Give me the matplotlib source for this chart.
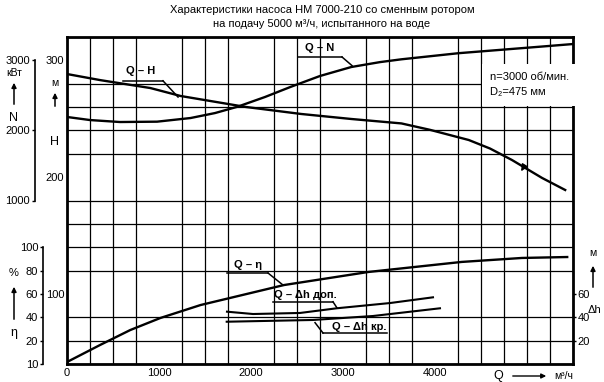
import numpy as np
import matplotlib
matplotlib.use('Agg')
import matplotlib.pyplot as plt

plt.rcParams['font.family'] = ['Liberation Sans', 'DejaVu Sans']
plt.rcParams['font.size'] = 8

# data (Q in m3/h)
q_h = [0, 360, 906, 1234, 1943, 2544, 3090, 3635, 3946, 4367, 4598, 4836, 5164, 5415]
h_val = [288.3, 283.1, 276.3, 269.5, 260.1, 254.1, 249.8, 246.0, 240.5, 231.8, 224.5, 214.7, 199.3, 189.0]

q_n = [0, 251, 576, 979, 1343, 1609, 1853, 2152, 2434, 2750, 3090, 3402, 3635, 4254, 5237, 5500]
n_val = [2192, 2148, 2120, 2125, 2177, 2248, 2338, 2477, 2623, 2777, 2905, 2975, 3015, 3102, 3205, 3233]

q_eta = [0, 360, 688, 1015, 1452, 2358, 3275, 4290, 4945, 5437]
eta_val = [1.7, 16.3, 29.1, 39.4, 50.5, 67.6, 78.8, 87.4, 90.8, 91.6]

q_dop = [1739, 2022, 2533, 2931, 3511, 3978]
dh_dop = [44.8, 42.8, 43.7, 47.7, 52.2, 57.1]

q_kr = [1736, 2674, 3326, 4054]
dh_kr = [36.2, 37.7, 41.1, 47.7]

q_ticks = [0, 1000, 2000, 3000, 4000]
h_ticks = [100, 200, 300]
n_ticks = [1000, 2000, 3000]
eta_ticks = [0, 20, 40, 60, 80, 100]
eta_labels = ['10', '20', '40', '60', '80', '100']
dh_ticks = [20, 40, 60]

PT = 0.72  # points per pixel at 100 dpi

fig = plt.figure(figsize=(6.04, 3.82), dpi=100)
ax = fig.add_axes([67/604, 18/382, 506/604, 327/382])

ax.set_xlim(0, 5500)
ax.set_ylim(40, 320)
ax.set_xticks(np.arange(0, 5501, 250), minor=True)
ax.set_yticks(np.arange(40, 321, 20), minor=True)
ax.grid(which='minor', color='black', lw=0.9)
ax.set_xticks(q_ticks)
ax.set_yticks(h_ticks)
ax.tick_params(which='both', length=0)
ax.tick_params(axis='y', pad=2)
ax.tick_params(axis='x', pad=3)
for s in ax.spines.values():
    s.set_linewidth(2)

# H curve
ax.plot(q_h, h_val, color='black', lw=1.7, zorder=5)

# N on its own scale
ax_n = ax.twinx()
ax_n.set_ylim(3000 + (40 - 300) * 1000 / 60, 3000 + (320 - 300) * 1000 / 60)
for k in ['right', 'top', 'bottom']:
    ax_n.spines[k].set_visible(False)
ax_n.spines['left'].set_visible(True)
ax_n.spines['left'].set_position(('outward', 32 * PT))
ax_n.spines['left'].set_bounds(1000, 3000)
ax_n.spines['left'].set_linewidth(1.2)
ax_n.yaxis.set_ticks_position('left')
ax_n.set_yticks(n_ticks)
ax_n.tick_params(axis='y', length=2.5, width=1, pad=1)
ax_n.plot(q_n, n_val, color='black', lw=1.7, zorder=5)

# efficiency scale (left) and dh scale (right)
ax_e = ax.twinx()
ax_e.set_ylim(0, 280)
for k in ['right', 'top', 'bottom']:
    ax_e.spines[k].set_visible(False)
ax_e.spines['left'].set_visible(True)
ax_e.spines['left'].set_position(('outward', 24 * PT))
ax_e.spines['left'].set_bounds(0, 100)
ax_e.spines['left'].set_linewidth(1.2)
ax_e.yaxis.set_ticks_position('left')
ax_e.set_yticks(eta_ticks)
ax_e.set_yticklabels(eta_labels)
ax_e.tick_params(axis='y', length=2.5, width=1, pad=1)
ax_e.plot(q_eta, eta_val, color='black', lw=1.7, zorder=5)

ax_d = ax.twinx()
ax_d.set_ylim(0, 280)
for s in ax_d.spines.values():
    s.set_visible(False)
ax_d.set_yticks(dh_ticks)
ax_d.tick_params(axis='y', length=2.5, width=1, pad=1)
ax_d.plot(q_dop, dh_dop, color='black', lw=1.5, zorder=5)
ax_d.plot(q_kr, dh_kr, color='black', lw=1.5, zorder=5)

# curve labels with underline and leader
def curve_label(txt, tx, ty, u0, u1, uy, lx, ly, start_right=True):
    ax.text(tx, ty, txt, ha='center', va='center', fontsize=8, zorder=7,
            fontweight='bold')
    ax.plot([u0, u1], [uy, uy], color='black', lw=1.1, zorder=7)
    sx = u1 if start_right else u0
    ax.plot([sx, lx], [uy, ly], color='black', lw=1.1, zorder=7)

curve_label('Q – H', 804, 290.5, 609, 1043, 282.5, 1207, 268.6)
curve_label('Q – N', 2750, 310.6, 2511, 2989, 302.9, 3098, 295.5)
curve_label('Q – η', 1967, 124.5, 1739, 2185, 117.9, 2348, 107.6)
curve_label('Q – Δh доп.', 2587, 99.5, 2239, 2891, 93.3, 2935, 88.0)
curve_label('Q – Δh кр.', 3174, 72.0, 2783, 3478, 66.5, 2696, 75.4, start_right=False)

# arrow mark on the H curve
ax.annotate('', xy=(4920, 203), xytext=(4990, 212),
            arrowprops=dict(arrowstyle='-|>', color='black', lw=1, mutation_scale=10),
            zorder=8)

ax.text(4597, 279, 'n=3000 об/мин.\nD₂=475 мм', ha='left', va='center',
        fontsize=8, linespacing=1.6, zorder=9,
        bbox=dict(facecolor='white', edgecolor='none', pad=6))

fig.text(322/604, 1 - 10/382, 'Характеристики насоса НМ 7000-210 со сменным ротором',
         ha='center', va='center', fontsize=8)
fig.text(322/604, 1 - 24/382, 'на подачу 5000 м³/ч, испытанного на воде',
         ha='center', va='center', fontsize=8)

def fx(x):
    return x / 604

def fy(y):
    return 1 - y / 382

def up_arrow(x, y0, y1):
    fig.add_artist(matplotlib.patches.FancyArrowPatch(
        (fx(x), fy(y0)), (fx(x), fy(y1)), transform=fig.transFigure,
        arrowstyle='-|>', mutation_scale=7, color='black', lw=1.1))

# axis captions
fig.text(fx(14), fy(73), 'кВт', ha='center', va='center', fontsize=7.5)
up_arrow(14, 107, 80)
fig.text(fx(14), fy(118), 'N', ha='center', va='center', fontsize=9)

fig.text(fx(55), fy(83), 'м', ha='center', va='center', fontsize=7.5)
up_arrow(55, 109, 90)
fig.text(fx(55), fy(142), 'H', ha='center', va='center', fontsize=9)

fig.text(fx(14), fy(273), '%', ha='center', va='center', fontsize=8)
up_arrow(14, 322, 284)
fig.text(fx(14), fy(333), 'η', ha='center', va='center', fontsize=9)

fig.text(fx(593), fy(253), 'м', ha='center', va='center', fontsize=7.5)
up_arrow(593, 290, 263)
fig.text(fx(595), fy(310), 'Δh', ha='center', va='center', fontsize=8)

fig.text(fx(498), fy(376), 'Q', ha='center', va='center', fontsize=9)
fig.add_artist(matplotlib.patches.FancyArrowPatch(
    (fx(510), fy(376)), (fx(549), fy(376)), transform=fig.transFigure,
    arrowstyle='-|>', mutation_scale=7, color='black', lw=1))
fig.text(fx(564), fy(376), 'м³/ч', ha='center', va='center', fontsize=7.5)

fig.savefig('out.png', dpi=100)
